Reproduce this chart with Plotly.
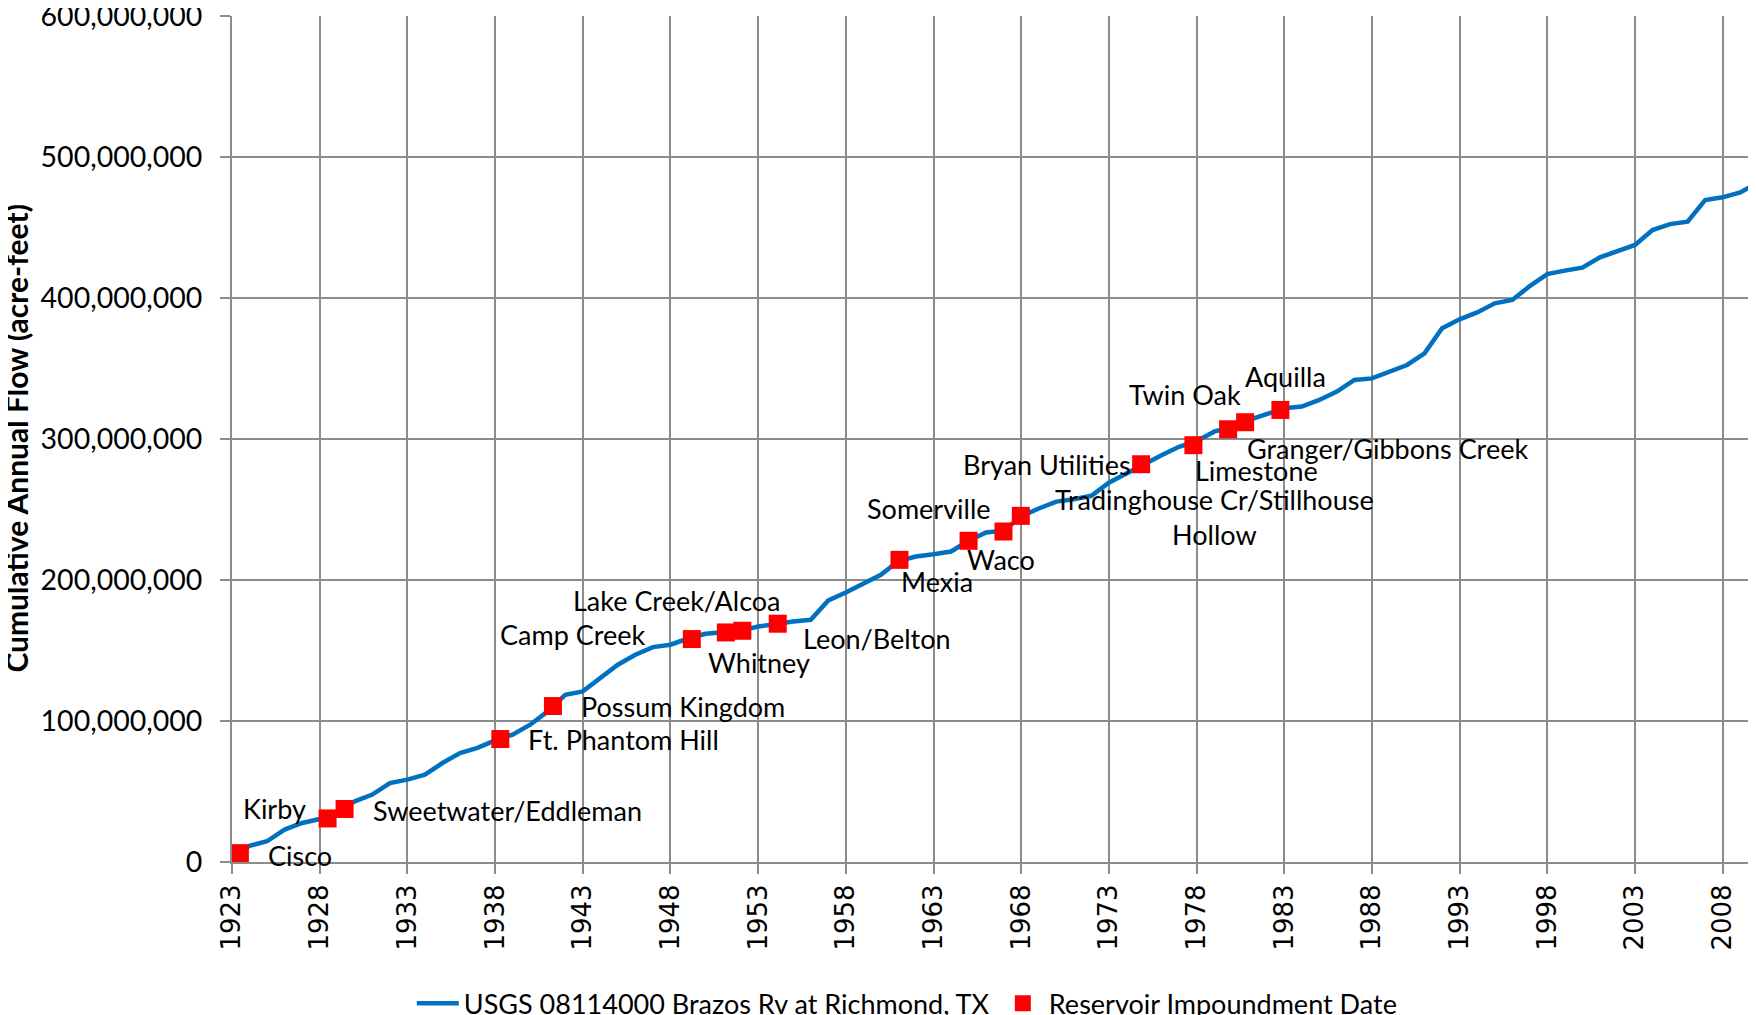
import plotly.graph_objects as go

# ---- data ----
years = list(range(1923, 2011))
cum_flow_m = [
    3.5, 11.5, 14.7, 23.0, 27.7, 30.5, 35.5, 43.0, 47.8, 56.0,
    58.4, 61.9, 70.2, 77.3, 80.9, 86.3, 90.3, 97.4, 106.8, 118.6,
    121.0, 130.5, 139.9, 147.0, 152.4, 154.1, 158.5, 161.9, 162.8, 164.0,
    167.0, 169.0, 170.6, 171.8, 185.5, 191.1, 197.3, 203.7, 213.5, 216.7,
    218.3, 220.2, 227.8, 233.7, 235.0, 245.0, 250.7, 255.6, 257.3, 259.7,
    269.0, 275.5, 282.8, 288.5, 294.5, 298.5, 305.2, 308.5, 313.5, 317.6,
    321.8, 323.0, 327.7, 333.6, 341.9, 343.0, 347.8, 352.5, 360.8, 378.5,
    384.9, 389.8, 396.2, 398.6, 408.5, 417.0, 419.4, 421.5, 428.8, 433.5,
    437.6, 448.2, 452.4, 454.1, 469.5, 471.4, 474.9, 481.7,
]
cum_flow = [v * 1e6 for v in cum_flow_m]

reservoirs = [
    "Cisco", "Kirby", "Sweetwater/Eddleman", "Ft. Phantom Hill", "Possum Kingdom",
    "Camp Creek", "Lake Creek/Alcoa", "Whitney", "Leon/Belton", "Mexia",
    "Somerville", "Waco", "Tradinghouse Cr/Stillhouse<br>Hollow", "Bryan Utilities",
    "Limestone", "Twin Oak", "Granger/Gibbons Creek", "Aquilla",
]
res_years = [1923.45, 1928.45, 1929.42, 1938.3, 1941.3, 1949.22, 1951.16, 1952.1,
             1954.12, 1961.06, 1965.0, 1966.99, 1967.98, 1974.84, 1977.82, 1979.8,
             1980.77, 1982.78]
res_values_m = [6.3, 30.9, 37.6, 87.2, 110.6, 158.1, 162.8, 164.0, 169.0, 214.3,
                227.8, 234.4, 245.5, 282.1, 295.6, 306.9, 311.9, 320.6]
res_values = [v * 1e6 for v in res_values_m]

y_ticks = [0, 100e6, 200e6, 300e6, 400e6, 500e6, 600e6]
y_tick_text = ["0", "100,000,000", "200,000,000", "300,000,000",
               "400,000,000", "500,000,000", "600,000,000"]

# label placement (style): xanchor, x pixel shift, y pixel shift (down positive)
label_style = [
    ("left", 26, 2), ("right", -20, -10), ("left", 26, 2), ("left", 26, 0),
    ("left", 26, 0), ("right", -45, -5), ("center", -49, -32), ("center", 17, 32),
    ("left", 23, 15), ("left", 0, 22), ("center", -40, -32), ("center", -2, 28),
    ("center", 194, 1), ("right", -8, 0), ("left", 0, 25), ("center", -43, -35),
    ("left", 0, 26), ("center", 5, -33),
]

LABEL_FONT = dict(family="Lato", size=27, color="black")
GRID = "#8c8c8c"

fig = go.Figure()
fig.add_trace(go.Scatter(
    x=years, y=cum_flow, mode="lines",
    name="USGS 08114000 Brazos Rv at Richmond, TX",
    line=dict(color="#0070C0", width=4.5),
))
fig.add_trace(go.Scatter(
    x=res_years, y=res_values, mode="markers",
    name="Reservoir Impoundment Date",
    marker=dict(symbol="square", size=18, color="#FF0000"),
    cliponaxis=False,
))

for name, xv, yv, (anc, dx, dy) in zip(reservoirs, res_years, res_values, label_style):
    fig.add_annotation(
        x=xv, y=yv, text=name, showarrow=False,
        xanchor=anc, yanchor="middle", xshift=dx, yshift=-dy,
        font=LABEL_FONT, align="center",
    )

fig.add_annotation(
    xref="paper", yref="paper", x=-0.1420, y=0.5,
    text="<b>Cumulative Annual Flow (acre-feet)</b>", textangle=-90,
    showarrow=False, xanchor="center", yanchor="middle",
    font=dict(family="Lato", size=30, color="black"),
)

fig.update_layout(
    width=1748, height=1007,
    margin=dict(l=224, r=0, t=8, b=153, autoexpand=False),
    paper_bgcolor="white", plot_bgcolor="white",
    showlegend=True,
    legend=dict(
        orientation="h", x=0.1180, xanchor="left", y=-0.1385, yanchor="top",
        font=dict(family="Lato", size=27, color="black"),
        itemwidth=42,
        entrywidth=528, entrywidthmode="pixels",
        bgcolor="rgba(0,0,0,0)",
    ),
    xaxis=dict(
        range=[1923, 2009.9], tick0=1923, dtick=5,
        showgrid=True, gridcolor=GRID, gridwidth=1.5,
        showline=True, linecolor=GRID, linewidth=2,
        ticks="outside", ticklen=10, tickcolor=GRID, tickwidth=1.5,
        tickangle=-90, tickfont=dict(family="DejaVu Sans", size=26, color="black"),
        zeroline=False,
    ),
    yaxis=dict(
        range=[0, 600e6], tickvals=y_ticks, ticktext=y_tick_text,
        showgrid=True, gridcolor=GRID, gridwidth=1.5,
        showline=True, linecolor=GRID, linewidth=2,
        ticks="outside", ticklen=10, tickcolor=GRID, tickwidth=1.5,
        tickfont=dict(family="Lato", size=28.5, color="black"),
        ticklabelstandoff=12, zeroline=False, ticklabeloverflow="allow",
    ),
)

fig.write_html("out.html")
